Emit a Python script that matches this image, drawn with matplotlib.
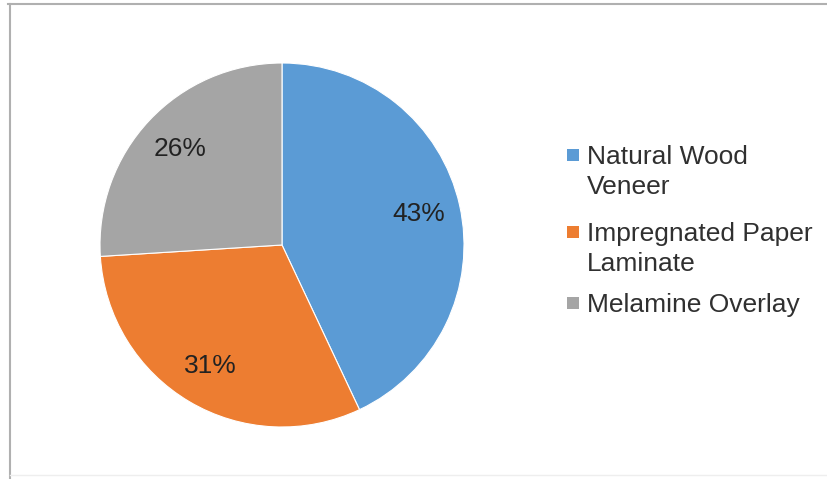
import matplotlib.pyplot as plt
from matplotlib.lines import Line2D
from matplotlib.patches import Rectangle

plt.rcParams['font.family'] = ['Liberation Sans', 'DejaVu Sans']

categories = ["Natural Wood Veneer", "Impregnated Paper Laminate", "Melamine Overlay"]
legend_labels = ["Natural Wood\nVeneer", "Impregnated Paper\nLaminate", "Melamine Overlay"]
shares = [43, 31, 26]
colors = ['#5B9BD5', '#ED7D31', '#A5A5A5']

W, H = 827, 479
fig = plt.figure(figsize=(W / 100, H / 100), dpi=100)

# pie axes: centre (282, 245) px, radius 182 px
cx, cy, r = 282, 245, 182
ax = fig.add_axes([(cx - r) / W, (H - cy - r) / H, 2 * r / W, 2 * r / H])
wedges, texts, autotexts = ax.pie(
    shares, colors=colors, startangle=90, counterclock=False,
    autopct='%d%%', pctdistance=0.77,
    wedgeprops=dict(edgecolor='white', linewidth=0.8),
    textprops=dict(fontsize=19, color='#222222'))
ax.set_xlim(-1, 1)
ax.set_ylim(-1, 1)
ax.axis('off')

# legend like Excel: marker next to the first line of each entry
entry_top = [155, 232, 303]  # first-line centres in px
for wedge, label, yc in zip(wedges, legend_labels, entry_top):
    fig.add_artist(Rectangle((567 / W, 1 - (yc + 6) / H), 12 / W, 12 / H,
                             facecolor=wedge.get_facecolor(), edgecolor='none',
                             transform=fig.transFigure))
    fig.text(587 / W, 1 - (yc - 10) / H, label, fontsize=19, color='#303030',
             va='top', ha='left', linespacing=1.3)

# frame of the embedded chart
fig.add_artist(Line2D([8 / W, 1], [1 - 4 / H, 1 - 4 / H], color='#b0b0b0', lw=1.5))
fig.add_artist(Line2D([10 / W, 10 / W], [0, 1 - 4 / H], color='#b0b0b0', lw=1.5))
fig.add_artist(Line2D([10 / W, 1], [1 - 475 / H, 1 - 475 / H], color='#eeeeee', lw=1))

fig.savefig('out.png', dpi=100)
